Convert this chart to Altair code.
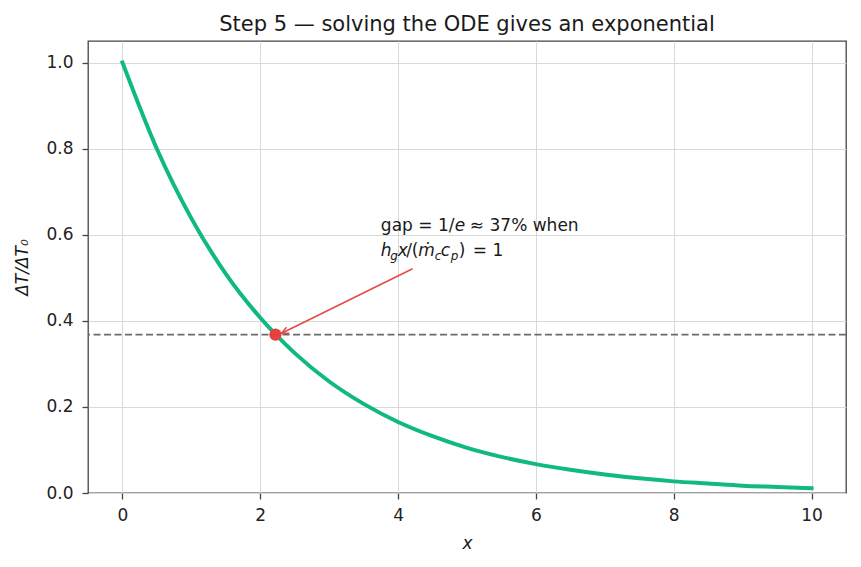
import altair as alt
import pandas as pd

# ---- data ----
x_vals = [0.0, 0.5, 1.0, 1.5, 2.0, 2.5, 3.0, 3.5, 4.0, 4.5, 5.0,
          5.5, 6.0, 6.5, 7.0, 7.5, 8.0, 8.5, 9.0, 9.5, 10.0]
ratio_vals = [1.000, 0.799, 0.638, 0.509, 0.407, 0.325, 0.259, 0.207, 0.165, 0.132, 0.105,
              0.084, 0.067, 0.054, 0.043, 0.034, 0.027, 0.022, 0.017, 0.014, 0.011]
marker_x = [2.22]
marker_y = [0.368]
threshold_y = [0.368]
arrow_from = [4.21, 0.521]
arrow_to = [2.31, 0.371]
x_ticks = [0, 2, 4, 6, 8, 10]
y_ticks = [0.0, 0.2, 0.4, 0.6, 0.8, 1.0]
title_text = "Step 5 — solving the ODE gives an exponential"
note_x = 3.75
note_line_y = [0.609, 0.551]

FONT = "DejaVu Sans"
FS = 17

xs = alt.Scale(domain=[-0.5, 10.5], nice=False, zero=False)
ys = alt.Scale(domain=[0, 1.05], nice=False, zero=False)
x_axis = alt.Axis(values=x_ticks, format="d", title="x", titleFontStyle="italic")
y_axis = alt.Axis(values=y_ticks, format=".1f", title="ΔT/ΔT₀", titleFontStyle="italic")


def X(field):
    return alt.X(field, type="quantitative", scale=xs, axis=x_axis)


def Y(field):
    return alt.Y(field, type="quantitative", scale=ys, axis=y_axis)


curve_df = pd.DataFrame({"x": x_vals, "r": ratio_vals})
curve = alt.Chart(curve_df).mark_line(
    color="#10b981", strokeWidth=4, interpolate="monotone", strokeCap="square"
).encode(x=X("x"), y=Y("r"))

thr = alt.Chart(pd.DataFrame({"r": threshold_y})).mark_rule(
    color="#6b6b6b", strokeWidth=1.6, strokeDash=[7, 3.5]
).encode(y=Y("r"))

arrow_df = pd.DataFrame({"x": [arrow_from[0]], "y": [arrow_from[1]],
                         "x2": [arrow_to[0]], "y2": [arrow_to[1]]})
arrow_line = alt.Chart(arrow_df).mark_rule(color="#e34a45", strokeWidth=1.5).encode(
    x=X("x"), y=Y("y"), x2="x2", y2="y2")
arrow_head = alt.Chart(pd.DataFrame({"x": [arrow_to[0]], "y": [arrow_to[1]]})).mark_point(
    shape="M -0.47 1 L 0 0 L 0.47 1", filled=False, stroke="#e34a45", strokeWidth=1.5,
    size=196, angle=244, opacity=1
).encode(x=X("x"), y=Y("y"))

marker = alt.Chart(pd.DataFrame({"x": marker_x, "y": marker_y})).mark_point(
    shape="circle", filled=True, color="#e5413e", size=150, opacity=1
).encode(x=X("x"), y=Y("y"))

# annotation pieces: (text, line index, dx, dy, size, style)
pieces = [
    ("gap = 1/", 0, 0, 0, FS, "normal"),
    ("e", 0, 74, 0, FS, "italic"),
    ("≈ 37% when", 0, 89, 0, FS, "normal"),
    ("h", 1, 0, 0, FS, "italic"),
    ("g", 1, 9.5, 4, 12, "italic"),
    ("x", 1, 17, 0, FS, "italic"),
    ("/", 1, 25.5, 0, FS, "normal"),
    ("(", 1, 31, 0, FS, "normal"),
    ("ṁ", 1, 37.5, 0, FS, "italic"),
    ("c", 1, 54, 4, 12, "italic"),
    ("c", 1, 60, 0, FS, "italic"),
    ("p", 1, 70, 4, 12, "italic"),
    (")", 1, 78, 0, FS, "normal"),
    ("= 1", 1, 92, 0, FS, "normal"),
]
text_layers = []
for t, li, dx, dy, size, style in pieces:
    df = pd.DataFrame({"x": [note_x], "y": [note_line_y[li]], "t": [t]})
    text_layers.append(
        alt.Chart(df).mark_text(
            align="left", baseline="alphabetic", dx=dx, dy=dy, fontSize=size,
            fontStyle=style, font=FONT, color="#1a1a1a"
        ).encode(x=X("x"), y=Y("y"), text="t:N")
    )

chart = alt.layer(thr, curve, arrow_line, arrow_head, marker, *text_layers).properties(
    width=758, height=452,
    title=alt.TitleParams(title_text, fontSize=21, fontWeight="normal", font=FONT,
                          color="#1a1a1a", offset=10, dy=21, baseline="alphabetic",
                          anchor="middle", frame="group"),
    autosize=alt.AutoSizeParams(type="none"),
    padding={"left": 88, "top": 41, "right": 15, "bottom": 74},
).configure_view(
    stroke="#444444", strokeWidth=1.3
).configure_axis(
    domain=False, grid=True, gridColor="#d9d9d9", gridWidth=1,
    ticks=True, tickSize=6, tickWidth=1.3, tickColor="#444444",
    labelFont=FONT, labelFontSize=17, labelColor="#222222",
    titleFont=FONT, titleFontSize=17, titleFontWeight="normal", titleColor="#1a1a1a",
).configure_axisY(
    labelPadding=9, titlePadding=14
).configure_axisX(
    labelPadding=8, titlePadding=12
)

chart.save("out.html", embed_options={"renderer": "svg", "actions": False})
